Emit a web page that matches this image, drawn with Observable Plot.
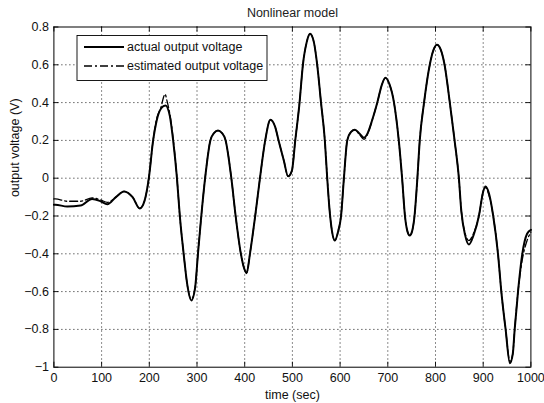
<!DOCTYPE html>
<html>
<head>
<meta charset="utf-8">
<script src="https://cdn.jsdelivr.net/npm/d3@7"></script>
<script src="https://cdn.jsdelivr.net/npm/@observablehq/plot@0.6"></script>
<style>
  html, body { margin: 0; padding: 0; background: #fff; }
  #chart { width: 544px; height: 403px; }
</style>
</head>
<body>
<div id="chart"></div>
<script>
// ---- data ----
const chartTitle = "Nonlinear model";
const xLabel = "time (sec)";
const yLabel = "output voltage (V)";
const seriesNames = ["actual output voltage", "estimated output voltage"];
const xTicks = [0, 100, 200, 300, 400, 500, 600, 700, 800, 900, 1000];
const yTicks = [-1, -0.8, -0.6, -0.4, -0.2, 0, 0.2, 0.4, 0.6, 0.8];

const tActual = [0, 3, 28, 56, 80, 98, 112, 130, 147, 165, 180, 190, 199, 208, 215, 225, 234, 243, 250, 258, 264, 272, 280, 288, 296, 302, 309, 317, 328, 336, 344, 352, 360, 372, 381, 392, 398, 404, 411, 422, 432, 443, 454, 464, 471, 482, 491, 499, 506, 515, 522, 530, 537, 545, 552, 560, 568, 573, 578, 583, 589, 596, 602, 608, 615, 623, 631, 641, 650, 658, 667, 678, 687, 695, 703, 713, 723, 730, 736, 741, 746, 751, 756, 762, 767, 776, 788, 796, 803, 811, 819, 830, 840, 849, 854, 862, 870, 880, 891, 900, 905, 912, 921, 931, 938, 947, 956, 962, 966, 973, 982, 992, 1000];
const vActual = [-0.14, -0.14, -0.15, -0.145, -0.11, -0.122, -0.138, -0.1, -0.07, -0.1, -0.16, -0.12, 0.0, 0.2, 0.3, 0.37, 0.385, 0.33, 0.2, 0.0, -0.2, -0.4, -0.57, -0.647, -0.58, -0.4, -0.2, 0.0, 0.2, 0.24, 0.252, 0.24, 0.2, 0.0, -0.2, -0.4, -0.47, -0.503, -0.4, -0.2, 0.0, 0.2, 0.309, 0.27, 0.2, 0.094, 0.01, 0.04, 0.2, 0.4, 0.6, 0.72, 0.764, 0.72, 0.6, 0.4, 0.2, 0.0, -0.17, -0.28, -0.33, -0.28, -0.2, 0.0, 0.2, 0.245, 0.256, 0.235, 0.214, 0.24, 0.305, 0.4, 0.49, 0.531, 0.5, 0.4, 0.2, 0.0, -0.2, -0.28, -0.303, -0.28, -0.2, 0.0, 0.2, 0.4, 0.6, 0.68, 0.706, 0.68, 0.6, 0.4, 0.2, 0.0, -0.17, -0.3, -0.351, -0.3, -0.2, -0.07, -0.044, -0.08, -0.2, -0.4, -0.6, -0.8, -0.979, -0.93, -0.8, -0.6, -0.4, -0.294, -0.273];

const tEstimated = [0, 3, 28, 56, 80, 98, 112, 130, 147, 165, 180, 190, 199, 208, 215, 225, 230, 233, 237, 243, 250, 258, 264, 272, 280, 288, 296, 302, 309, 317, 328, 336, 344, 352, 360, 372, 381, 392, 398, 404, 411, 422, 432, 443, 454, 464, 471, 482, 491, 499, 506, 515, 522, 530, 537, 545, 552, 560, 568, 573, 578, 583, 589, 596, 602, 608, 615, 623, 631, 641, 650, 658, 667, 678, 687, 695, 703, 713, 723, 730, 736, 741, 746, 751, 756, 762, 767, 776, 788, 796, 803, 811, 819, 830, 840, 849, 854, 862, 870, 880, 891, 900, 905, 912, 921, 931, 938, 947, 956, 962, 966, 973, 982, 992, 1000];
const vEstimated = [-0.11, -0.109, -0.122, -0.122, -0.104, -0.115, -0.128, -0.1, -0.07, -0.1, -0.16, -0.12, 0.0, 0.2, 0.31, 0.38, 0.43, 0.445, 0.41, 0.34, 0.21, 0.0, -0.2, -0.4, -0.57, -0.64, -0.58, -0.4, -0.2, 0.0, 0.2, 0.24, 0.252, 0.24, 0.2, 0.0, -0.2, -0.4, -0.47, -0.5, -0.4, -0.2, 0.0, 0.2, 0.309, 0.27, 0.2, 0.094, 0.01, 0.04, 0.2, 0.4, 0.6, 0.72, 0.764, 0.72, 0.6, 0.4, 0.2, 0.0, -0.17, -0.28, -0.33, -0.28, -0.2, 0.0, 0.2, 0.245, 0.256, 0.23, 0.205, 0.235, 0.305, 0.4, 0.49, 0.531, 0.5, 0.4, 0.2, 0.0, -0.2, -0.28, -0.303, -0.28, -0.2, 0.0, 0.2, 0.4, 0.6, 0.68, 0.706, 0.68, 0.6, 0.4, 0.2, 0.0, -0.17, -0.29, -0.33, -0.29, -0.2, -0.07, -0.05, -0.09, -0.2, -0.4, -0.6, -0.8, -0.97, -0.93, -0.8, -0.6, -0.43, -0.33, -0.285];

// ---- layout ----
const W = 544, H = 403;
const mL = 53.4, mR = 13.6, mT = 26.5, mB = 36.3;
const innerW = W - mL - mR, innerH = H - mT - mB;
const xDomain = [0, 1000], yDomain = [-1, 0.8];
const tickPx = 5;
const tx = tickPx * (xDomain[1] - xDomain[0]) / innerW;
const ty = tickPx * (yDomain[1] - yDomain[0]) / innerH;
const font = "'Liberation Sans', Arial, sans-serif";
const fmt = d => String(d).replace("-", "\u2212");

const actual = tActual.map((t, i) => ({t, v: vActual[i]}));
const estimated = tEstimated.map((t, i) => ({t, v: vEstimated[i]}));
const innerXT = xTicks.slice(1, -1);
const innerYT = yTicks.slice(1, -1);

const gridStyle = {stroke: "#000", strokeOpacity: 1, strokeWidth: 0.9, strokeDasharray: "1,3"};
const tickStyle = {stroke: "#000", strokeWidth: 0.9};

const chart = Plot.plot({
  width: W, height: H,
  marginLeft: mL, marginRight: mR, marginTop: mT, marginBottom: mB,
  style: {fontFamily: font, fontSize: "12.5px", color: "#000", background: "#fff", overflow: "visible"},
  x: {domain: xDomain, label: null},
  y: {domain: yDomain, label: null},
  marks: [
    Plot.gridX(innerXT, gridStyle),
    Plot.gridY(innerYT, gridStyle),
    // inward ticks on all four sides
    Plot.ruleX(xTicks, {x: d => d, y1: yDomain[0], y2: yDomain[0] + ty, ...tickStyle}),
    Plot.ruleX(xTicks, {x: d => d, y1: yDomain[1], y2: yDomain[1] - ty, ...tickStyle}),
    Plot.ruleY(yTicks, {y: d => d, x1: xDomain[0], x2: xDomain[0] + tx, ...tickStyle}),
    Plot.ruleY(yTicks, {y: d => d, x1: xDomain[1], x2: xDomain[1] - tx, ...tickStyle}),
    Plot.line(actual, {x: "t", y: "v", curve: "monotone-x", stroke: "#000", strokeWidth: 2}),
    Plot.line(estimated, {x: "t", y: "v", curve: "monotone-x", stroke: "#000", strokeWidth: 1.3, strokeDasharray: "8,3,2,3"}),
    Plot.frame({stroke: "#000", strokeWidth: 1}),
    Plot.axisX(xTicks, {tickSize: 0, tickPadding: 6, label: null, fill: "#111", tickFormat: fmt}),
    Plot.axisY(yTicks, {tickSize: 0, tickPadding: 5, label: null, fill: "#111", tickFormat: fmt}),
    Plot.text([chartTitle], {text: d => d, frameAnchor: "top", dy: -14, lineAnchor: "middle", fill: "#222"}),
    Plot.text([xLabel], {text: d => d, frameAnchor: "bottom", dy: 27.5, lineAnchor: "middle", fill: "#111"}),
    Plot.text([yLabel], {text: d => d, frameAnchor: "left", dx: -39, rotate: -90, lineAnchor: "middle", fill: "#111"})
  ]
});

// ---- legend box (MATLAB style, upper-left inside axes) ----
const svg = d3.select(chart);
const lg = svg.append("g").attr("font-family", font).attr("font-size", "12.5px").attr("text-anchor", "start");
const lx = 77, ly = 35.5, lw = 190, lh = 45;
lg.append("rect").attr("x", lx).attr("y", ly).attr("width", lw).attr("height", lh)
  .attr("fill", "#fff").attr("stroke", "#000").attr("stroke-width", 0.9);
const rows = [
  {name: seriesNames[0], dash: null, w: 2},
  {name: seriesNames[1], dash: "8,3,2,3", w: 1.3}
];
rows.forEach((r, i) => {
  const yy = ly + 11.5 + i * 19;
  const ln = lg.append("line").attr("x1", lx + 7).attr("x2", lx + 47).attr("y1", yy).attr("y2", yy)
    .attr("stroke", "#000").attr("stroke-width", r.w);
  if (r.dash) ln.attr("stroke-dasharray", r.dash);
  lg.append("text").attr("x", lx + 50).attr("y", yy).attr("dy", "0.35em")
    .attr("text-anchor", "start").attr("fill", "#111").text(r.name);
});

document.getElementById("chart").appendChild(chart);
</script>
</body>
</html>
